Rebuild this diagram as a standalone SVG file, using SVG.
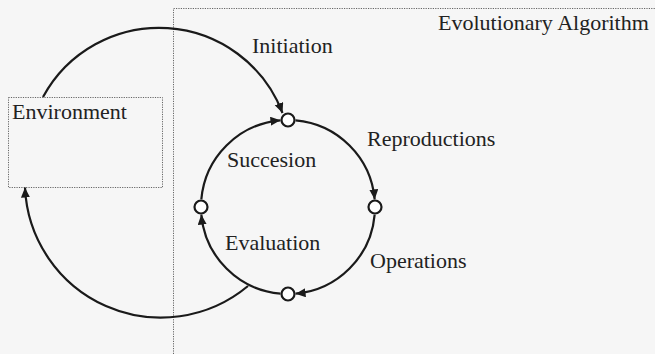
<svg xmlns="http://www.w3.org/2000/svg" width="655" height="354" viewBox="0 0 655 354">
<style>
.bg{fill:#f6f6f6}
.box{fill:none;stroke:#666;stroke-width:1;stroke-dasharray:1.2 1.2}
.lbl{font-family:"Liberation Serif","Times New Roman",serif;font-size:22px;fill:#222}
.edge{fill:none;stroke:#1a1a1a;stroke-width:2.2;marker-end:url(#arr)}
.node{fill:#fff;stroke:#1a1a1a;stroke-width:2.2}
</style>
<defs>
<marker id="arr" markerUnits="userSpaceOnUse" markerWidth="11" markerHeight="10" refX="10" refY="4.5" orient="auto">
<path d="M0,0 L10,4.5 L0,9 z" fill="#1a1a1a"/>
</marker>
</defs>
<rect class="bg" x="0" y="0" width="655" height="354"/>
<g id="evolutionary-algorithm">
<path class="box" d="M173.5 354 V8.5 H655"/>
<text class="lbl" x="438" y="30">Evolutionary Algorithm</text>
</g>
<g id="environment">
<rect class="box" x="8.5" y="97.5" width="154" height="90"/>
<text class="lbl" x="12" y="119">Environment</text>
</g>
<g id="connectors">
<path class="edge" d="M43 97 A132 132 0 0 1 282.5 113"/>
<path class="edge" d="M248 286 A136 136 0 0 1 25 187.5"/>
<path class="edge" d="M201.33 199.41 A87 87 0 0 1 280.41 120.33"/>
<path class="edge" d="M295.58 120.33 A87 87 0 0 1 374.67 199.41"/>
<path class="edge" d="M374.67 214.58 A87 87 0 0 1 295.58 293.67"/>
<path class="edge" d="M280.42 293.67 A87 87 0 0 1 201.33 214.58"/>
</g>
<g id="node-initiation">
<circle class="node" cx="288" cy="120" r="6.5"/>
<text class="lbl" x="252" y="53">Initiation</text>
</g>
<g id="node-reproductions">
<circle class="node" cx="375" cy="207" r="6.5"/>
<text class="lbl" x="367" y="146">Reproductions</text>
</g>
<g id="node-operations">
<circle class="node" cx="288" cy="294" r="6.5"/>
<text class="lbl" x="370" y="268">Operations</text>
</g>
<g id="node-evaluation">
<circle class="node" cx="201" cy="207" r="6.5"/>
<text class="lbl" x="225" y="250">Evaluation</text>
</g>
<g id="label-succesion">
<text class="lbl" x="227" y="167">Succesion</text>
</g>
</svg>
